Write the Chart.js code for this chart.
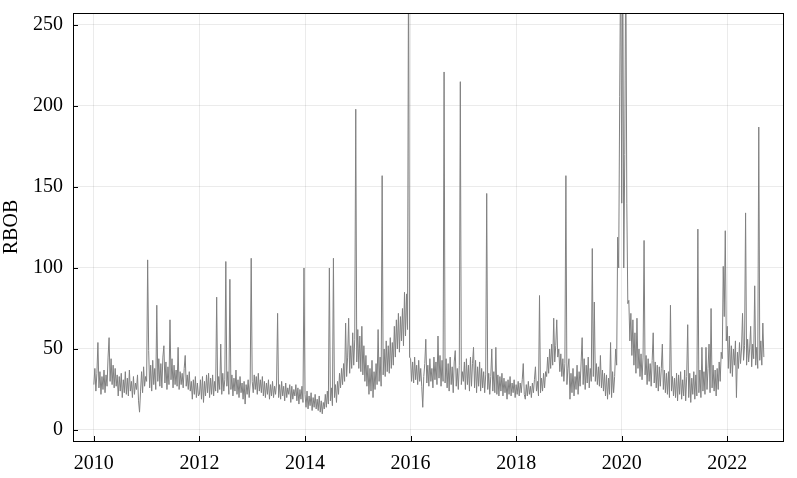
<!DOCTYPE html>
<html><head><meta charset="utf-8">
<script src="https://cdn.jsdelivr.net/npm/chart.js@4.4.1/dist/chart.umd.min.js"></script>
<style>html,body{margin:0;padding:0;background:#fff;}#wrap{width:797px;height:478px;}</style>
</head><body><div id="wrap"><canvas id="c" width="797" height="478"></canvas></div>
<script>
// Weekly readings of the RBOB series (week index w -> year + w/52)
const rbob2010 = [28,38,24,35,54,26,36,22,33,25,37,23,34,27,45,57,30,44,28,40,26,38,27,34,21,33,24,35,20,31,23,36,22,32,21,37,24,30,20,33,22,29,25,34,18,11,24,36,23,39,27,33];
const rbob2011 = [30,105,49,26,40,24,43,28,38,25,77,30,44,27,41,26,45,52,29,42,25,39,28,68,31,44,26,40,28,37,27,51,25,36,28,35,26,38,46,27,34,25,36,24,30,19,31,22,33,20,29,21];
const rbob2012 = [22,31,19,33,17,30,21,34,23,35,20,32,22,34,21,30,24,82,23,33,25,53,22,35,24,31,104,27,36,22,93,25,34,21,32,24,37,22,31,20,33,23,29,19,30,16,28,22,31,20,29,106];
const rbob2013 = [30,23,34,25,33,22,35,24,31,23,33,21,30,20,29,22,31,19,28,21,30,20,27,22,29,72,20,28,19,30,21,27,18,29,20,26,22,28,17,27,19,25,21,28,18,26,16,25,19,27,17,100];
const rbob2014 = [22,14,24,13,21,15,23,12,20,14,22,13,19,12,21,11,18,10,17,13,22,14,24,16,100,18,26,15,106,20,28,17,30,22,35,26,38,28,41,30,66,33,45,69,35,52,38,60,40,56,198,42];
const rbob2015 = [62,38,58,36,64,34,52,30,46,27,40,22,38,24,43,20,36,25,41,28,62,30,45,27,157,34,50,33,55,36,52,35,57,38,54,40,64,45,68,50,72,48,70,55,75,52,85,58,84,62,300,45];
const rbob2016 = [44,30,42,29,45,31,40,28,43,30,38,27,14,33,41,56,29,40,27,44,30,38,26,45,31,42,28,58,32,46,27,43,30,221,29,44,26,41,24,45,28,39,23,42,49,27,38,25,40,215,28,36];
const rbob2017 = [30,42,25,44,28,40,24,45,27,41,51,26,43,23,39,27,42,24,38,26,36,23,34,146,25,35,22,33,50,24,36,23,51,22,34,21,33,24,35,21,32,23,30,19,31,22,33,21,29,23,31,20];
const rbob2018 = [28,22,30,21,29,23,31,41,22,19,28,21,30,22,27,20,29,23,31,39,24,30,21,83,23,32,24,35,26,36,33,45,35,50,38,53,40,69,42,52,68,45,50,36,47,33,44,30,41,157,28,38];
const rbob2019 = [44,19,35,23,38,21,33,25,40,22,36,27,42,57,28,44,25,40,29,45,26,38,30,112,33,79,30,41,28,39,27,46,26,37,24,35,21,34,19,32,22,54,20,36,23,33,50,40,119,100,206,300];
const rbob2020 = [140,300,100,170,300,140,78,80,55,72,46,68,40,60,35,69,38,50,33,47,31,45,117,34,46,28,44,30,41,27,43,60,29,42,26,40,24,39,27,38,53,25,37,23,35,22,36,20,77,24,33,21];
const rbob2021 = [32,20,35,18,34,22,36,19,31,21,37,18,33,65,20,35,17,32,22,36,19,34,21,124,23,37,20,51,24,36,22,51,25,38,53,23,75,26,40,24,37,21,38,25,42,30,48,44,101,70,123,55];
const rbob2022 = [64,38,58,35,52,33,50,40,55,20,48,38,54,41,50,72,43,52,134,40,56,42,50,64,39,53,44,89,40,51,38,187,43,55,40,66,45];

const years = [2010,2011,2012,2013,2014,2015,2016,2017,2018,2019,2020,2021,2022];
const xTicks = [2010,2012,2014,2016,2018,2020,2022];
const yTicks = [0,50,100,150,200,250];
const yLabel = 'RBOB';

const series = [rbob2010,rbob2011,rbob2012,rbob2013,rbob2014,rbob2015,rbob2016,rbob2017,rbob2018,rbob2019,rbob2020,rbob2021,rbob2022];
const points = [];
series.forEach((vals, i) => vals.forEach((v, w) => points.push({x: years[i] + w / 52, y: v})));

const FONT = "'Liberation Serif', 'Times New Roman', serif";

const framePlugin = {
  id: 'frame',
  afterDraw(chart) {
    const {ctx, chartArea: a, scales} = chart;
    ctx.save();
    ctx.strokeStyle = '#000';
    ctx.lineWidth = 1;
    ctx.beginPath();
    scales.x.ticks.forEach(t => {
      const px = Math.round(scales.x.getPixelForValue(t.value)) + 0.5;
      ctx.moveTo(px, a.bottom); ctx.lineTo(px, a.bottom - 5);
    });
    scales.y.ticks.forEach(t => {
      const py = Math.round(scales.y.getPixelForValue(t.value)) + 0.5;
      ctx.moveTo(a.left, py); ctx.lineTo(a.left + 5, py);
    });
    ctx.stroke();
    ctx.strokeRect(a.left + 0.5, a.top + 0.5, a.right - a.left, a.bottom - a.top);
    ctx.restore();
  }
};

new Chart(document.getElementById('c'), {
  type: 'line',
  data: { datasets: [{
    data: points,
    borderColor: '#808080',
    borderWidth: 1,
    pointRadius: 0,
    tension: 0,
    fill: false
  }]},
  options: {
    responsive: false,
    animation: false,
    devicePixelRatio: 1,
    layout: { padding: { top: 13, right: 14, left: 0, bottom: 0 } },
    plugins: { legend: { display: false }, tooltip: { enabled: false } },
    scales: {
      x: {
        type: 'linear',
        min: 2009.605, max: 2023.055,
        afterBuildTicks: s => { s.ticks = xTicks.map(v => ({ value: v })); },
        afterFit: s => { s.height = 37; s.paddingLeft = 0; s.paddingRight = 0; },
        grid: { color: 'rgba(0,0,0,0.08)', lineWidth: 1, drawTicks: false },
        border: { display: false },
        ticks: { color: '#000', font: { family: FONT, size: 20 }, padding: 11, maxRotation: 0, autoSkip: false,
                 callback: v => String(v) }
      },
      y: {
        min: -6.8, max: 257.4,
        afterBuildTicks: s => { s.ticks = yTicks.map(v => ({ value: v })); },
        afterFit: s => { s.width = 73; s.paddingTop = 0; s.paddingBottom = 0; },
        grid: { color: 'rgba(0,0,0,0.08)', lineWidth: 1, drawTicks: false },
        border: { display: false },
        title: { display: true, text: yLabel, color: '#000', font: { family: FONT, size: 20 }, padding: 0 },
        ticks: { color: '#000', font: { family: FONT, size: 20 }, padding: 10, callback: v => String(v) }
      }
    }
  },
  plugins: [framePlugin]
});
</script>
</body></html>
